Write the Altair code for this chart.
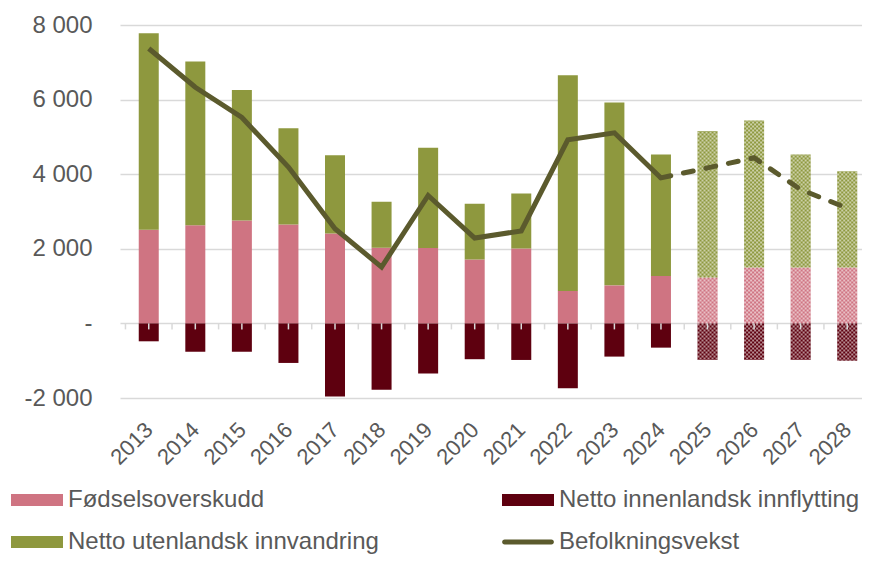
import altair as alt
import pandas as pd

# ---- data ----
years = list(range(2013, 2029))
fodsel = [2510, 2630, 2760, 2650, 2410, 2030, 2020, 1710, 2010, 870, 1020, 1270, 1230, 1500, 1500, 1500]
utenlandsk = [5270, 4390, 3500, 2580, 2100, 1230, 2690, 1500, 1470, 5780, 4900, 3260, 3930, 3940, 3030, 2580]
innenlandsk = [-480, -760, -760, -1060, -1960, -1780, -1340, -960, -980, -1740, -890, -650, -980, -980, -980, -1000]
vekst = [7370, 6330, 5520, 4190, 2540, 1510, 3430, 2290, 2480, 4920, 5110, 3900, 4170, 4440, 3590, 3090]
last_actual = 2024

names = ["Fødselsoverskudd", "Netto innenlandsk innflytting",
         "Netto utenlandsk innvandring", "Befolkningsvekst"]
colors = ["#CF7482", "#5E000F", "#8E983E", "#5B5A2D"]
y_ticks = [-2000, 0, 2000, 4000, 6000, 8000]

# ---- tables ----
rows = []
for i, yr in enumerate(years):
    p, g, d = fodsel[i], utenlandsk[i], innenlandsk[i]
    proj = yr > last_actual
    rows.append(dict(year=yr, series=names[0], y0=0, y1=p, proj=proj))
    rows.append(dict(year=yr, series=names[2], y0=p, y1=p + g, proj=proj))
    rows.append(dict(year=yr, series=names[1], y0=0, y1=d, proj=proj))
bars = pd.DataFrame(rows)
proj_bars = bars[bars["proj"]]

line_df = pd.DataFrame({"year": years, "v": vekst})
solid_df = line_df[line_df["year"] <= last_actual]
dash_df = line_df[line_df["year"] >= last_actual]

tick_df = pd.DataFrame({"t": sorted(years + [y - 0.5 for y in years])})
legend_df = pd.DataFrame({"series": names, "year": [years[0]] * 4, "v": [0] * 4})

# ---- scales / axes ----
FONT = "Liberation Sans"
TXT = "#595959"
x_scale = alt.Scale(domain=[2012.49, 2028.21], nice=False, zero=False)
y_scale = alt.Scale(domain=[-2000, 8000], nice=False, zero=False)
color_scale = alt.Scale(domain=names, range=colors)
rect_path = "M-1,-0.23H1V0.23H-1Z"
line_path = "M-0.9,-0.096H0.9A0.096,0.096,0,0,1,0.9,0.096H-0.9A0.096,0.096,0,0,1,-0.9,-0.096Z"
shape_scale = alt.Scale(domain=names, range=[rect_path, rect_path, rect_path, line_path])

x_axis = alt.Axis(values=years, format="d", labelAngle=-45, labelAlign="right",
                  labelBaseline="middle", labelPadding=28, domain=False, ticks=False,
                  grid=False, labelOverlap=False, labelFlush=False, labelBound=False,
                  title=None, labelFontSize=22, labelFont=FONT, labelColor=TXT)
y_axis = alt.Axis(values=y_ticks, domain=False, ticks=False, grid=True,
                  gridColor="#D9D9D9", gridWidth=1.5, labelPadding=28,
                  labelFontSize=24, labelFont=FONT, labelColor=TXT, title=None,
                  labelExpr="datum.value == 0 ? '-' : (datum.value < 0 ? '-' : '') + replace(format(abs(datum.value), ','), ',', ' ')")
legend = alt.Legend(title=None, orient="none", legendX=-109, legendY=449, columns=2,
                    direction="horizontal",
                    columnPadding=123, rowPadding=4, symbolSize=2704, symbolStrokeWidth=0,
                    symbolOpacity=1,
                    labelFontSize=24, labelFont=FONT, labelColor=TXT, labelOffset=5,
                    labelLimit=600, padding=0)


def X(field):
    return alt.X(field, scale=x_scale, axis=x_axis, title=None)


def Y(field):
    return alt.Y(field, scale=y_scale, axis=y_axis, title=None)


bar_layer = alt.Chart(bars).mark_bar(width=20).encode(
    x=X("year:Q"), y=Y("y0:Q"), y2="y1:Q",
    color=alt.Color("series:N", scale=color_scale, legend=legend),
)

offsets = [-9, -7, -5, -3, -1, 1, 3, 5, 7, 9]
pattern_layers = [
    alt.Chart(proj_bars).mark_rule(color="white", strokeWidth=2, strokeDash=[2, 2],
                                   strokeDashOffset=(2 if k % 2 else 0), xOffset=dx,
                                   opacity=0.55).encode(
        x=X("year:Q"), y=Y("y0:Q"), y2="y1:Q",
    )
    for k, dx in enumerate(offsets)
]

tick_layer = alt.Chart(tick_df).mark_rule(color="#D9D9D9", strokeWidth=1.5, y2Offset=6).encode(
    x=X("t:Q"),
    y=alt.datum(0, scale=y_scale, axis=y_axis),
    y2=alt.datum(0),
)

solid_line = alt.Chart(solid_df).mark_line(color=colors[3], strokeWidth=5).encode(
    x=X("year:Q"), y=Y("v:Q"),
)
dash_line = alt.Chart(dash_df).mark_line(color=colors[3], strokeWidth=5, strokeDash=[10, 13],
                                         strokeCap="round").encode(
    x=X("year:Q"), y=Y("v:Q"),
)

legend_layer = alt.Chart(legend_df).mark_point(filled=True, opacity=1).encode(
    x=X("year:Q"), y=Y("v:Q"),
    color=alt.Color("series:N", scale=color_scale, legend=legend),
    shape=alt.Shape("series:N", scale=shape_scale, legend=legend),
).transform_filter("false")

chart = alt.layer(bar_layer, *pattern_layers, tick_layer, solid_line, dash_line, legend_layer).properties(
    width=742, height=373,
    autosize=alt.AutoSizeParams(type="none"),
    padding={"left": 112, "top": 17, "right": 0, "bottom": 159},
    background="white",
).configure_view(strokeWidth=0)

chart.save("out.html", embed_options={"renderer": "svg", "actions": False})
